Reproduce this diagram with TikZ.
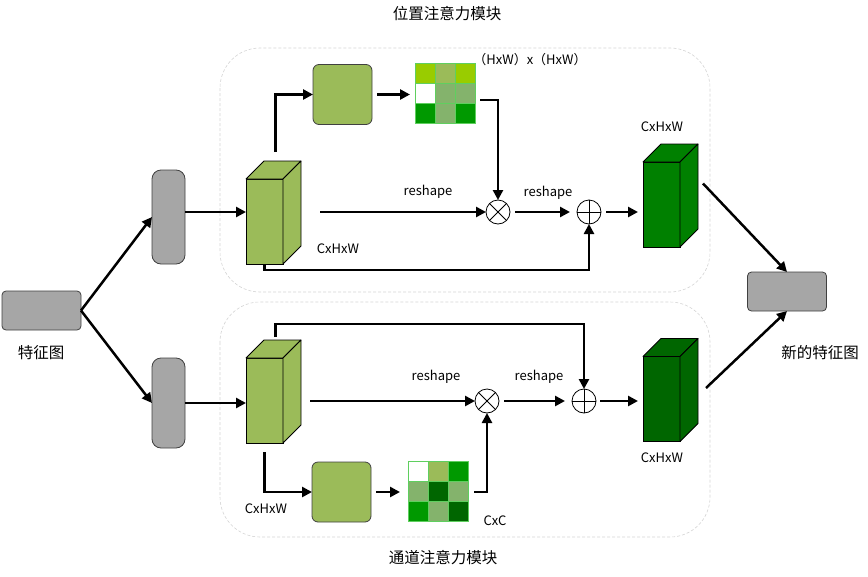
\documentclass[tikz,border=0pt]{standalone}
\usepackage{fontspec}
\setmainfont{Noto Sans CJK SC}
\usetikzlibrary{calc,arrows.meta}
\definecolor{grayfill}{HTML}{A6A6A6}
\definecolor{grayline}{HTML}{404040}
\definecolor{olive}{HTML}{9BBB59}
\definecolor{midg}{HTML}{84B36C}
\definecolor{yg}{HTML}{99CC00}
\definecolor{brg}{HTML}{009900}
\definecolor{dkg}{HTML}{006600}
\definecolor{outg}{HTML}{008000}
\definecolor{cellline}{HTML}{5FCF5F}
\definecolor{framec}{HTML}{D4D4D4}
\newcommand\cubefaces[2]{%
  \filldraw[fill=#2,draw=black,line width=0.8pt,line join=round]
    (#1.north west) -- ($(#1.north west)+(18,-18)$) -- ($(#1.north east)+(18,-18)$) -- (#1.north east) -- cycle;
  \filldraw[fill=#2,draw=black,line width=0.8pt,line join=round]
    (#1.north east) -- ($(#1.north east)+(18,-18)$) -- ($(#1.south east)+(18,-18)$) -- (#1.south east) -- cycle;}
\newcommand\gridcells[2]{%
  \foreach \c [count=\i from 0] in {#2} {
    \pgfmathtruncatemacro\r{int(\i/3)}
    \pgfmathtruncatemacro\k{mod(\i,3)}
    \filldraw[fill=\c,draw=cellline,line width=1pt]
      ($(#1.north west)+(20*\k,20*\r)$) rectangle ++(20,20);
  }}
\begin{document}
\begin{tikzpicture}[x=1pt,y=-1pt,
  pill/.style={draw=grayline,fill=grayfill,line width=0.8pt,rounded corners=9pt,minimum width=33pt,minimum height=94pt,inner sep=0pt,outer sep=0pt},
  fbox/.style={draw=grayline,fill=grayfill,line width=0.8pt,rounded corners=4pt,minimum width=79pt,minimum height=39pt,inner sep=0pt,outer sep=0pt},
  front/.style={draw=black,line width=0.8pt,minimum width=37pt,minimum height=85pt,inner sep=0pt,outer sep=0pt},
  gsq/.style={draw=grayline,fill=olive,line width=0.8pt,rounded corners=6pt,minimum width=59pt,minimum height=60pt,inner sep=0pt,outer sep=0pt},
  grid/.style={minimum width=60pt,minimum height=60pt,inner sep=0pt,outer sep=0pt},
  op/.style={circle,draw=black,line width=0.8pt,minimum size=24pt,inner sep=0pt,outer sep=0pt},
  arr/.style={line width=2.5pt,-{Triangle[length=10pt,width=10pt]}},
  lbl/.style={font=\fontsize{13}{15}\selectfont,inner sep=0pt},
  cjk/.style={font=\fontsize{15.5}{17}\selectfont,inner sep=0pt},
  frame/.style={draw=framec,dash pattern=on 3pt off 2pt,line width=0.6pt,rounded corners=40pt}]
\useasboundingbox (0,0) rectangle (868,576);
% frames
\draw[frame] (220,48) rectangle (710,292);
\draw[frame] (220,302) rectangle (710,537);
% titles
\node[cjk] (t1) at (447,14) {位置注意力模块};
\node[cjk] (t2) at (443,558) {通道注意力模块};
% input / output boxes
\node[fbox] (in) at (41.5,310.5) {};
\node[cjk] (inl) at (41,353) {特征图};
\node[fbox] (out) at (787,291.5) {};
\node[cjk] (outl) at (820,353) {新的特征图};
\node[pill] (p1) at (168.5,217) {};
\node[pill,minimum height=90pt] (p2) at (168.5,403) {};
% cuboids
\node[front,fill=olive] (c1) at (264.5,221.5) {};
\cubefaces{c1}{olive}
\node[front,fill=olive] (c2) at (264.5,400.5) {};
\cubefaces{c2}{olive}
\node[front,fill=outg] (o1) at (661.5,204.5) {};
\cubefaces{o1}{outg}
\node[front,fill=dkg] (o2) at (661.5,399) {};
\cubefaces{o2}{dkg}
% green squares and grids
\node[gsq] (s1) at (342.5,94.5) {};
\node[gsq] (s2) at (341.5,492) {};
\node[grid] (m1) at (445,93) {};
\gridcells{m1}{yg,olive,yg,white,midg,midg,brg,midg,brg}
\node[grid] (m2) at (438,491) {};
\gridcells{m2}{white,olive,brg,midg,dkg,midg,brg,midg,dkg}
% operators
\node[op] (ot1) at (498,212) {};
\draw[line width=0.8pt] (ot1.north east) -- (ot1.south west) (ot1.north west) -- (ot1.south east);
\node[op] (op1) at (589,212) {};
\draw[line width=0.8pt] (op1.north) -- (op1.south) (op1.west) -- (op1.east);
\node[op] (ot2) at (487,401) {};
\draw[line width=0.8pt] (ot2.north east) -- (ot2.south west) (ot2.north west) -- (ot2.south east);
\node[op] (op2) at (584,401) {};
\draw[line width=0.8pt] (op2.north) -- (op2.south) (op2.west) -- (op2.east);
% labels
\node[lbl] (l1) at (530,60) {（HxW）x（HxW）};
\node[lbl] (l2) at (428,192) {reshape};
\node[lbl] (l3) at (548,193) {reshape};
\node[lbl] (l4) at (338,249) {CxHxW};
\node[lbl] (l5) at (662,127) {CxHxW};
\node[lbl] (l6) at (436,377) {reshape};
\node[lbl] (l7) at (539,377) {reshape};
\node[lbl] (l8) at (266,509) {CxHxW};
\node[lbl] (l9) at (495,521) {CxC};
\node[lbl] (l10) at (662,458) {CxHxW};
% coordinates
\coordinate (c1top) at ($(c1.north)+(11,-27)$);
\coordinate (c1r) at ($(c1.east |- ot1)+(37,0)$);
\coordinate (m1r) at ($(m1.east)+(5,7)$);
\coordinate (o1r) at ($(o1.east)+(23,-21)$);
\coordinate (c2top) at ($(c2.north)+(11,-21)$);
\coordinate (c2r) at ($(c2.east |- ot2)+(27,0)$);
\coordinate (c2bot) at ($(c2.south)+(0,9)$);
\coordinate (m2r) at ($(m2.east)+(6,1)$);
\coordinate (o2r) at ($(o2.east)+(26,-11)$);
% connectors
\draw[arr] (in.east) -- (p1.west);
\draw[arr] (in.east) -- (p2.west);
\draw[arr] (p1.east |- ot1) -- (c1.west |- ot1);
\draw[arr] (p2.east) -- (c2.west |- p2.east);
\draw[arr] (c1top) |- (s1.west);
\draw[arr,shorten <=5pt,shorten >=5pt] (s1.east) -- (m1.west |- s1.east);
\draw[arr] (m1r) -| (ot1.north);
\draw[arr] (c1r) -- (ot1.west);
\draw[arr,shorten <=5pt,shorten >=7pt] (ot1.east) -- (op1.west);
\draw[arr,shorten <=5pt,shorten >=5pt] (op1.east) -- (o1.west |- op1.east);
\draw[arr] (c1.south) -- ++(0,6) -| (op1.south);
\draw[arr] (o1r) -- (out.north);
\draw[arr] (c2top) -- ++(0,-13) -| (op2.north);
\draw[arr] (c2r) -- (ot2.west);
\draw[arr,shorten <=5pt,shorten >=7pt] (ot2.east) -- (op2.west);
\draw[arr,shorten <=4pt,shorten >=5pt] (op2.east) -- (o2.west |- op2.east);
\draw[arr] (c2bot) |- (s2.west);
\draw[arr,shorten <=5pt,shorten >=8pt] (s2.east) -- (m2.west |- s2.east);
\draw[arr] (m2r) -| (ot2.south);
\draw[arr] (o2r) -- (out.south);
\end{tikzpicture}
\end{document}
